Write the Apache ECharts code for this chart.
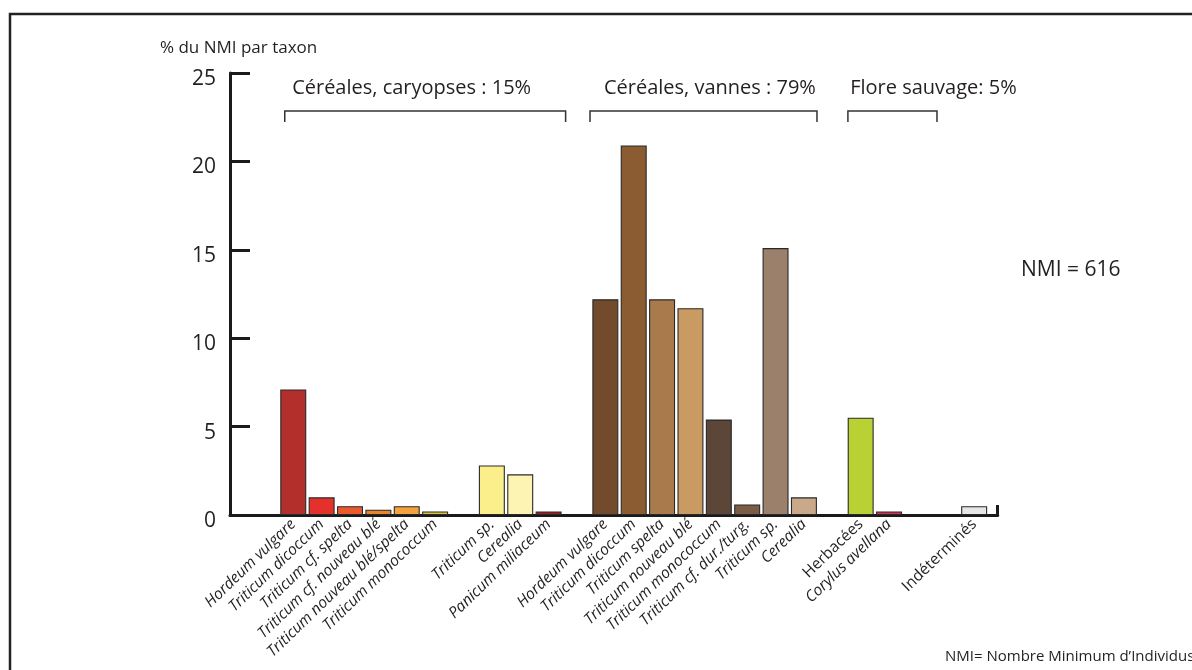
<!DOCTYPE html>
<html>
<head>
<meta charset="utf-8">
<script src="https://cdn.jsdelivr.net/npm/echarts@6/dist/echarts.min.js"></script>
<style>html,body{margin:0;padding:0;background:#fff}#c{width:1192px;height:670px}</style>
</head>
<body>
<div id="c"></div>
<script>
// Categories (empty strings are spacing slots between groups)
const categories = [
  'Hordeum vulgare', 'Triticum dicoccum', 'Triticum cf. spelta', 'Triticum cf. nouveau blé',
  'Triticum nouveau blé/spelta', 'Triticum monococcum', '',
  'Triticum sp.', 'Cerealia', 'Panicum miliaceum', '',
  'Hordeum vulgare', 'Triticum dicoccum', 'Triticum spelta', 'Triticum nouveau blé',
  'Triticum monococcum', 'Triticum cf. dur./turg.', 'Triticum sp.', 'Cerealia', '',
  'Herbacées', 'Corylus avellana', '', '', 'Indéterminés'
];
const values = [
  7.1, 1.0, 0.5, 0.3, 0.5, 0.2, null,
  2.8, 2.3, 0.2, null,
  12.2, 20.9, 12.2, 11.7, 5.4, 0.6, 15.1, 1.0, null,
  5.5, 0.2, null, null, 0.5
];
const colors = [
  '#b22f2b', '#e5312b', '#ec5a2c', '#ea852e', '#f4a23c', '#dcc23a', null,
  '#fbef8c', '#fdf3b2', '#a11d22', null,
  '#714b2b', '#8b5b31', '#a97a4c', '#c99a62', '#5b4637', '#7b5d47', '#9b806b', '#c9a98a', null,
  '#bad133', '#d1305b', null, null, '#e6e6e6'
];
const uprightLabels = ['Herbacées', 'Indéterminés'];
const yTicks = [0, 5, 10, 15, 20, 25];
const groups = [
  { label: 'Céréales, caryopses : 15%', from: -0.3, to: 9.6, textX: -0.04 },
  { label: 'Céréales, vannes : 79%', from: 10.46, to: 18.46, textX: 10.95 },
  { label: 'Flore sauvage: 5%', from: 19.55, to: 22.69, textX: 19.63 }
];
const yTitle = '% du NMI par taxon';
const nmiText = 'NMI = 616';
const footnote = 'NMI= Nombre Minimum d\u2019Individus';

const FONT = '"Open Sans", "Noto Sans", sans-serif';
const xMin = -2.23, xMax = 24.83;

const labelIdx = [];
categories.forEach((c, i) => { if (c) labelIdx.push(i); });

const data = [];
values.forEach((v, i) => {
  if (v == null) return;
  data.push({ value: [i, v], itemStyle: { color: colors[i] } });
});

const chart = echarts.init(document.getElementById('c'), null, { renderer: 'canvas' });
const option = {
  backgroundColor: '#fff',
  animation: false,
  grid: { left: 230, right: 1192 - 997.7, top: 73, bottom: 155, containLabel: false },
  xAxis: {
    type: 'value', min: xMin, max: xMax,
    splitLine: { show: false },
    axisLine: { show: true, onZero: false, lineStyle: { color: '#1a1a1a', width: 3 } },
    axisTick: { show: true, inside: true, length: 10, customValues: [xMax], lineStyle: { color: '#1a1a1a', width: 3 } },
    axisLabel: {
      show: true, customValues: labelIdx, rotate: 44, margin: 7,
      formatter: function (v) {
        const name = categories[Math.round(v)] || '';
        if (!name) return '';
        return (uprightLabels.indexOf(name) >= 0 ? '{n|' : '{i|') + name + '}';
      },
      rich: {
        i: { fontFamily: FONT, fontStyle: 'italic', fontSize: 15.5, color: '#231f20' },
        n: { fontFamily: FONT, fontSize: 15.5, color: '#231f20' }
      }
    }
  },
  yAxis: {
    type: 'value', min: 0, max: 25, interval: 5,
    splitLine: { show: false },
    axisLine: { show: true, onZero: false, lineStyle: { color: '#1a1a1a', width: 3 } },
    axisTick: { show: true, inside: true, length: 20, lineStyle: { color: '#1a1a1a', width: 3 } },
    axisLabel: { fontFamily: FONT, fontSize: 21, color: '#231f20', margin: 14,
      verticalAlign: 'top', lineHeight: 12,
      formatter: v => yTicks.indexOf(v) >= 0 ? String(v) : '' }
  },
  series: [{
    type: 'bar', data: data, barWidth: 26,
    itemStyle: { borderColor: '#2a2a2a', borderWidth: 1.1 }
  }]
};
chart.setOption(option);

function px(x, y) { return chart.convertToPixel({ gridIndex: 0 }, [x, y]); }
const gfx = [];
gfx.push({ type: 'rect', shape: { x: 10, y: 14, width: 1200, height: 700 },
  style: { fill: null, stroke: '#222', lineWidth: 2.5 }, silent: true });
gfx.push({ type: 'text', x: 160, y: 48,
  style: { text: yTitle, font: '17px ' + FONT, fill: '#231f20', verticalAlign: 'middle' } });
groups.forEach(g => {
  const a = px(g.from, 22.23), b = px(g.from, 22.85), c = px(g.to, 22.85), d = px(g.to, 22.23);
  gfx.push({ type: 'polyline', shape: { points: [a, b, c, d] },
    style: { stroke: '#333', lineWidth: 1.5, fill: null } });
  const t = px(g.textX, 24.15);
  gfx.push({ type: 'text', x: t[0], y: t[1],
    style: { text: g.label, font: '20px ' + FONT, fill: '#231f20', verticalAlign: 'middle' } });
});
gfx.push({ type: 'text', x: 1021, y: 270,
  style: { text: nmiText, font: '21px ' + FONT, fill: '#231f20', verticalAlign: 'middle' } });
gfx.push({ type: 'text', x: 945, y: 657,
  style: { text: footnote, font: '15px ' + FONT, fill: '#231f20', verticalAlign: 'middle' } });
chart.setOption({ graphic: gfx });
</script>
</body>
</html>
